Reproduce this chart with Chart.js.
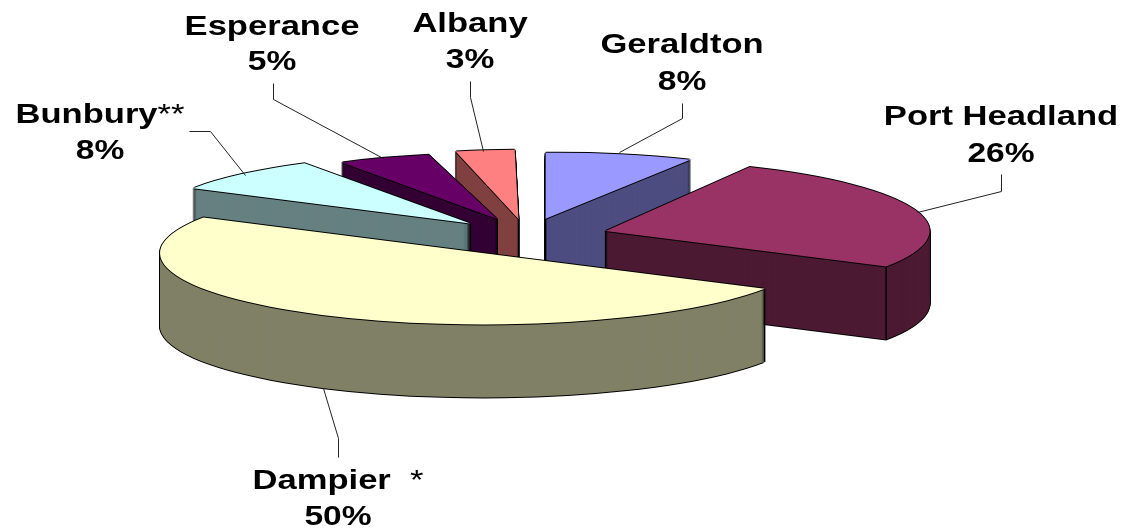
<!DOCTYPE html>
<html>
<head>
<meta charset="utf-8">
<title>Port share</title>
<script src="https://cdn.jsdelivr.net/npm/chart.js@4/dist/chart.umd.min.js"></script>
<style>
  html, body { margin: 0; padding: 0; background: #fff; overflow: hidden; }
  canvas { display: block; }
</style>
</head>
<body>
<canvas id="port-pie" width="1124" height="529"></canvas>
<script>
// Chart values, clockwise from the front slice
const categories = ['Dampier  *', 'Bunbury**', 'Esperance', 'Albany', 'Geraldton', 'Port Headland'];
const shares = [50, 8, 5, 3, 8, 26];

// Slice styles
const topColors = ['#FFFFCC', '#CCFFFF', '#660066', '#FF8080', '#9999FF', '#993366'];
const sideColors = ['#808066', '#668080', '#330033', '#804040', '#4D4D80', '#4D1A33'];
const explodeDistances = [90, 82, 84, 78, 80, 80];
const sliceRadii = [324, 320, 300, 315, 300, 324];
const sliceShears = [0, 0, 0, -0.03, -0.042, 0]; // fakes the perspective of the far slices
const paintOrder = [3, 4, 2, 1, 5, 0];

// Where the text and leader lines sit: name centre/baseline, percent baseline, leader points
const labelLayout = [
  { x: 338, nameY: 489, pctY: 525, leader: [[338, 457], [338, 438], [323, 388]] },
  { x: 100, nameY: 123, pctY: 159, leader: [[189, 131], [210, 131], [245, 175]] },
  { x: 272, nameY: 35, pctY: 70, leader: [[273, 83], [273, 99], [381, 157]] },
  { x: 470, nameY: 32, pctY: 68, leader: [[470, 81], [470, 97], [483, 151]] },
  { x: 682, nameY: 53, pctY: 90, leader: [[682, 103], [682, 118], [619, 152]] },
  { x: 1001, nameY: 125, pctY: 162, leader: [[1001, 174], [1001, 191], [917, 212]] }
];

// Look of the tilted pie
const tilt = 0.22;
const depth = 73;
const pieCentre = { x: 529, y: 236 };

// Apex of an exploded slice in flat pie coordinates
function explodeShift(arc, index) {
  const mid = (arc.startAngle + arc.endAngle) / 2;
  return { x: Math.cos(mid) * explodeDistances[index], y: Math.sin(mid) * explodeDistances[index] };
}

// Draws one arc element squashed onto the tilted plane, shifted by dx/dy on screen
function drawFlat(ctx, arc, index, color, dx, dy) {
  const original = arc.options;
  const options = Object.create(original);
  options.backgroundColor = color;
  options.borderWidth = 0;
  arc.options = options;
  const shift = explodeShift(arc, index);
  ctx.save();
  ctx.translate(pieCentre.x + dx, pieCentre.y + dy);
  ctx.scale(1, tilt);
  ctx.translate(shift.x, shift.y);
  ctx.transform(1, 0, sliceShears[index], 1, 0, 0);
  ctx.translate(-arc.x, -arc.y);
  arc.draw(ctx);
  ctx.restore();
  arc.options = original;
}

// Screen position of a point at angle/radius inside an exploded slice
function slicePoint(arc, index, angle, radius) {
  const shift = explodeShift(arc, index);
  const px = Math.cos(angle) * radius;
  const py = Math.sin(angle) * radius;
  return {
    x: pieCentre.x + shift.x + px + sliceShears[index] * py,
    y: pieCentre.y + (shift.y + py) * tilt
  };
}

function drawSlice(ctx, arc, index) {
  // rim: black silhouette first, side colour over it
  for (let d = depth; d > 0; d--) {
    drawFlat(ctx, arc, index, '#000', -1, d);
    drawFlat(ctx, arc, index, '#000', 1, d);
  }
  drawFlat(ctx, arc, index, '#000', 0, depth + 1);
  for (let d = depth; d > 0; d--) {
    drawFlat(ctx, arc, index, sideColors[index], 0, d);
  }

  // vertical edges at the apex of the back slices and at rim corners on the near side
  const corners = [];
  if (Math.sin((arc.startAngle + arc.endAngle) / 2) < 0) corners.push(slicePoint(arc, index, 0, 0));
  [arc.startAngle, arc.endAngle].forEach(angle => {
    if (Math.sin(angle) > 0) corners.push(slicePoint(arc, index, angle, arc.outerRadius));
  });
  ctx.strokeStyle = '#000';
  ctx.lineWidth = 1.5;
  corners.forEach(p => {
    ctx.beginPath();
    ctx.moveTo(p.x, p.y);
    ctx.lineTo(p.x, p.y + depth);
    ctx.stroke();
  });

  // top face with its outline
  [[-1, 0], [1, 0], [0, -1], [0, 1]].forEach(o => drawFlat(ctx, arc, index, '#000', o[0], o[1]));
  drawFlat(ctx, arc, index, topColors[index], 0, 0);
}

function drawStretchedText(ctx, text, x, y, font, stretch, align) {
  ctx.save();
  ctx.font = font;
  ctx.textAlign = align;
  ctx.translate(x, y);
  ctx.scale(stretch, 1);
  ctx.fillText(text, 0, 0);
  ctx.restore();
}

function drawLabel(ctx, index) {
  const layout = labelLayout[index];
  const name = categories[index];
  const marks = (name.match(/\s*\*+$/) || [''])[0];
  const plain = name.slice(0, name.length - marks.length);
  const nameFont = 'bold 27px "Liberation Sans"';
  const markFont = '27px "Liberation Sans"';
  const stretch = 1.28;

  ctx.font = nameFont;
  const plainWidth = ctx.measureText(plain).width * stretch;
  ctx.font = markFont;
  const marksWidth = ctx.measureText(marks).width * stretch;
  const left = layout.x - (plainWidth + marksWidth) / 2;

  ctx.fillStyle = '#000';
  ctx.textBaseline = 'alphabetic';
  drawStretchedText(ctx, plain, left, layout.nameY, nameFont, stretch, 'left');
  if (marks) {
    drawStretchedText(ctx, marks, left + plainWidth, layout.nameY, markFont, stretch, 'left');
  }
  drawStretchedText(ctx, shares[index] + '%', layout.x, layout.pctY, 'bold 28px "Liberation Sans"', 1.2, 'center');

  ctx.strokeStyle = '#222';
  ctx.lineWidth = 1;
  ctx.beginPath();
  layout.leader.forEach((p, i) => {
    if (i === 0) ctx.moveTo(p[0] + 0.5, p[1] + 0.5);
    else ctx.lineTo(p[0] + 0.5, p[1] + 0.5);
  });
  ctx.stroke();
}

const tiltedPiePlugin = {
  id: 'tiltedPie',
  afterDatasetUpdate(chart) {
    // the far slices come out a little smaller than the near one
    chart.getDatasetMeta(0).data.forEach((arc, i) => {
      arc.outerRadius = sliceRadii[i];
    });
  },
  beforeDatasetDraw() {
    return false;
  },
  afterDatasetsDraw(chart) {
    const ctx = chart.ctx;
    const arcs = chart.getDatasetMeta(0).data;
    paintOrder.forEach(i => drawSlice(ctx, arcs[i], i));
    categories.forEach((c, i) => drawLabel(ctx, i));
  }
};

new Chart(document.getElementById('port-pie').getContext('2d'), {
  type: 'pie',
  data: {
    labels: categories,
    datasets: [{
      data: shares,
      backgroundColor: topColors,
      borderWidth: 0
    }]
  },
  options: {
    responsive: false,
    animation: false,
    rotation: 120,
    plugins: {
      legend: { display: false },
      tooltip: { enabled: false }
    }
  },
  plugins: [tiltedPiePlugin]
});
</script>
</body>
</html>
